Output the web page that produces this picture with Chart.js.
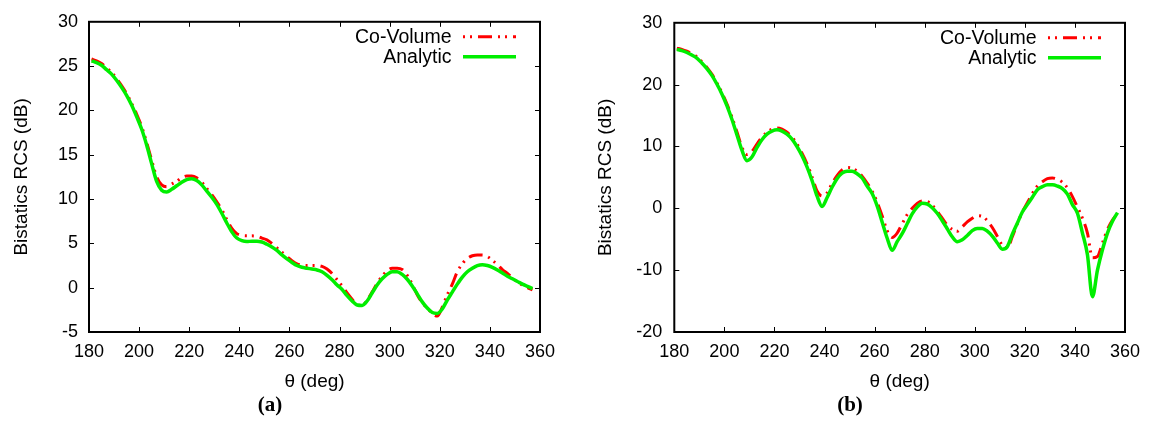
<!DOCTYPE html>
<html>
<head>
<meta charset="utf-8">
<script src="https://cdn.jsdelivr.net/npm/chart.js@4/dist/chart.umd.min.js"></script>
<style>
  html, body { margin: 0; padding: 0; background: #fff; overflow: hidden; }
  #wrap { position: relative; width: 1150px; height: 428px; }
  canvas { position: absolute; top: 0; }
</style>
</head>
<body>
<div id="wrap">
  <canvas id="c1" width="575" height="428" style="left:0px"></canvas>
  <canvas id="c2" width="575" height="428" style="left:575px"></canvas>
</div>
<script>
// ---------- data ----------
const angles = [181,183,185,187,189,191,193,195,197,199,201,203,205,207,209,211,213,215,217,219,
  221,223,225,227,229,231,233,235,237,239,241,243,245,247,249,251,253,255,257,259,
  261,263,265,267,269,271,273,275,277,279,281,283,285,287,289,291,293,295,297,299,
  301,303,305,307,309,311,313,315,317,319,321,323,325,327,329,331,333,335,337,339,
  341,343,345,347,349,351,353,355,357];

const seriesNames = ["Co-Volume", "Analytic"];
const panelLabels = ["(a)", "(b)"];
const xTicks = [180, 200, 220, 240, 260, 280, 300, 320, 340, 360];
const yTicksA = [-5, 0, 5, 10, 15, 20, 25, 30];
const yTicksB = [-20, -10, 0, 10, 20, 30];

// panel (a)
const coVolumeA = [25.8,25.6,25.3,24.8,24.3,23.6,22.8,21.9,20.8,19.6,18.2,16.4,14.4,12.5,11.6,11.4,11.7,12.0,12.4,12.6,
  12.6,12.4,11.9,11.2,10.5,9.7,8.8,7.7,6.7,6.1,5.9,5.85,5.85,5.8,5.6,5.4,5.0,4.5,4.0,3.5,
  3.05,2.7,2.55,2.5,2.5,2.5,2.4,2.1,1.6,0.9,0.2,-0.6,-1.3,-1.9,-2.0,-1.4,-0.5,0.5,1.3,1.9,
  2.2,2.2,2.05,1.4,0.4,-0.8,-1.7,-2.3,-2.9,-3.2,-2.2,-0.8,0.4,1.8,2.7,3.3,3.6,3.7,3.7,3.5,
  3.1,2.6,2.05,1.6,1.1,0.65,0.3,0.0,-0.25];
const analyticA = [25.6,25.4,25.1,24.6,24.1,23.4,22.6,21.7,20.6,19.3,17.9,16.1,14.0,12.0,11.0,10.8,11.1,11.5,11.9,12.2,
  12.3,12.1,11.6,10.9,10.2,9.4,8.4,7.3,6.3,5.6,5.3,5.2,5.25,5.25,5.15,4.9,4.6,4.2,3.7,3.25,
  2.85,2.5,2.3,2.2,2.1,2.0,1.8,1.4,0.9,0.3,-0.2,-0.9,-1.5,-1.95,-2.0,-1.5,-0.6,0.3,1.0,1.5,
  1.8,1.8,1.5,0.95,0.2,-0.7,-1.6,-2.3,-2.8,-2.9,-2.4,-1.4,-0.5,0.4,1.2,1.8,2.2,2.5,2.6,2.5,
  2.3,2.0,1.65,1.3,1.0,0.7,0.4,0.15,-0.1];

// panel (b)
const coVolumeB = [25.9,25.7,25.4,25.0,24.5,23.7,22.8,21.7,20.3,18.7,16.9,14.8,12.4,9.9,8.7,9.2,10.4,11.5,12.3,12.8,
  13.0,12.8,12.3,11.5,10.4,8.9,7.2,5.1,2.8,2.0,2.5,4.0,5.3,6.2,6.6,6.5,6.0,5.2,4.1,2.8,
  1.0,-1.2,-3.6,-4.7,-4.0,-2.5,-1.0,0.0,0.8,1.2,1.1,0.5,-0.5,-1.6,-2.7,-3.4,-3.7,-3.0,-2.2,-1.6,
  -1.2,-1.3,-2.0,-3.1,-4.5,-6.0,-6.4,-4.6,-2.5,-0.6,0.9,2.4,3.6,4.3,4.8,4.9,4.7,4.2,3.3,1.9,
  0.2,-1.6,-4.0,-8.0,-7.8,-5.6,-3.4,-1.9,-0.9];
const analyticB = [25.7,25.5,25.2,24.8,24.3,23.5,22.6,21.5,20.1,18.5,16.6,14.4,11.9,9.4,7.7,8.3,9.8,11.1,12.0,12.5,
  12.7,12.5,12.0,11.2,10.0,8.5,6.7,4.5,2.0,0.3,1.7,3.4,4.8,5.7,6.0,6.0,5.6,4.9,3.6,2.4,
  0.4,-2.2,-4.8,-6.8,-5.4,-4.1,-2.5,-0.9,0.2,0.8,0.7,0.1,-0.8,-2.0,-3.3,-4.6,-5.4,-5.1,-4.4,-3.6,
  -3.25,-3.25,-3.7,-4.5,-5.6,-6.6,-6.2,-4.2,-2.4,-0.6,0.6,1.8,3.0,3.5,3.8,3.8,3.6,3.2,2.3,0.6,
  -0.8,-4.0,-7.5,-14.3,-10.0,-6.7,-4.0,-2.1,-0.7];

// ---------- helpers ----------
const FONT = "'Liberation Sans', Arial, sans-serif";
const RED = '#ff0000';
const GREEN = '#00ee00';
const RED_DASH = [14, 6, 2, 5, 2, 6];

function pts(vals) { return angles.map((a, i) => ({ x: a, y: vals[i] })); }

const framePlugin = {
  id: 'gnuframe',
  afterDraw(chart) {
    const ctx = chart.ctx;
    const a = chart.chartArea;
    const xs = chart.scales.x, ys = chart.scales.y;
    ctx.save();
    // ticks (inward, mirrored)
    ctx.strokeStyle = '#000';
    ctx.lineWidth = 1;
    ctx.beginPath();
    xs.ticks.forEach(t => {
      if (t.value <= xs.min || t.value >= xs.max) return;
      const px = Math.round(xs.getPixelForValue(t.value)) + 0.5;
      ctx.moveTo(px, a.bottom); ctx.lineTo(px, a.bottom - 5);
      ctx.moveTo(px, a.top); ctx.lineTo(px, a.top + 5);
    });
    ys.ticks.forEach(t => {
      if (t.value <= ys.min || t.value >= ys.max) return;
      const py = Math.round(ys.getPixelForValue(t.value)) + 0.5;
      ctx.moveTo(a.left, py); ctx.lineTo(a.left + 5, py);
      ctx.moveTo(a.right, py); ctx.lineTo(a.right - 5, py);
    });
    ctx.stroke();
    // frame
    ctx.lineWidth = 2;
    ctx.strokeRect(a.left, a.top, a.right - a.left, a.bottom - a.top);
    // legend (inside, top right, gnuplot style)
    ctx.font = '19.5px ' + FONT;
    ctx.textAlign = 'right';
    ctx.textBaseline = 'middle';
    ctx.fillStyle = '#000';
    chart.data.datasets.forEach((ds, i) => {
      const y = a.top + 15 + i * 20;
      ctx.fillText(ds.label, a.right - 88.5, y + 1);
      ctx.beginPath();
      ctx.strokeStyle = ds.borderColor;
      ctx.lineWidth = ds.borderWidth;
      ctx.setLineDash(ds.borderDash || []);
      ctx.lineDashOffset = ds.borderDash ? 20 : 0;
      ctx.moveTo(a.right - 77, y);
      ctx.lineTo(a.right - 24, y);
      ctx.stroke();
      ctx.setLineDash([]);
    });
    ctx.restore();
  }
};

function makeChart(id, red, green, yTicks, panel, yAxisWidth, yTitlePad, yPad, rightPad) {
  const yMin = yTicks[0], yMax = yTicks[yTicks.length - 1];
  const yStep = yTicks[1] - yTicks[0];
  return new Chart(document.getElementById(id), {
    type: 'line',
    data: {
      datasets: [
        { label: seriesNames[0], data: pts(red), borderColor: RED, borderWidth: 3,
          borderDash: RED_DASH, borderCapStyle: 'butt', pointRadius: 0, order: 1,
          cubicInterpolationMode: 'monotone', fill: false },
        { label: seriesNames[1], data: pts(green), borderColor: GREEN, borderWidth: 3.5,
          pointRadius: 0, order: 0, cubicInterpolationMode: 'monotone', fill: false }
      ]
    },
    options: {
      responsive: false,
      animation: false,
      devicePixelRatio: 1,
      layout: { padding: { top: 19, right: rightPad, left: 0, bottom: 0 } },
      plugins: {
        legend: { display: false },
        tooltip: { enabled: false },
        title: {
          display: true, text: panel, position: 'bottom',
          color: '#000',
          font: { family: "'Liberation Serif', 'Times New Roman', serif", weight: 'bold', size: 21 },
          padding: { top: 0, bottom: 10 }
        }
      },
      scales: {
        x: {
          type: 'linear', min: 180, max: 360,
          afterBuildTicks: s => { s.ticks = xTicks.map(v => ({ value: v })); },
          afterFit: s => { s.height = 60.8; },
          grid: { display: false, drawTicks: false },
          border: { display: false },
          ticks: { color: '#000', font: { family: FONT, size: 18 }, padding: 9, maxRotation: 0, autoSkip: false },
          title: { display: true, text: 'θ (deg)', color: '#000',
                   font: { family: FONT, size: 19 }, padding: { top: 0, bottom: 0 } }
        },
        y: {
          type: 'linear', min: yMin, max: yMax,
          afterBuildTicks: s => { s.ticks = yTicks.map(v => ({ value: v })); },
          afterFit: s => { s.width = yAxisWidth; },
          grid: { display: false, drawTicks: false },
          border: { display: false },
          ticks: { color: '#000', font: { family: FONT, size: 18 }, padding: yPad, stepSize: yStep },
          title: { display: true, text: 'Bistatics RCS (dB)', color: '#000',
                   font: { family: FONT, size: 19 }, padding: { top: yTitlePad, bottom: 0 } }
        }
      }
    },
    plugins: [framePlugin]
  });
}

makeChart('c1', coVolumeA, analyticA, yTicksA, panelLabels[0], 89, 10, 11, 35);
makeChart('c2', coVolumeB, analyticB, yTicksB, panelLabels[1], 99.3, 19, 12, 25);
</script>
</body>
</html>
